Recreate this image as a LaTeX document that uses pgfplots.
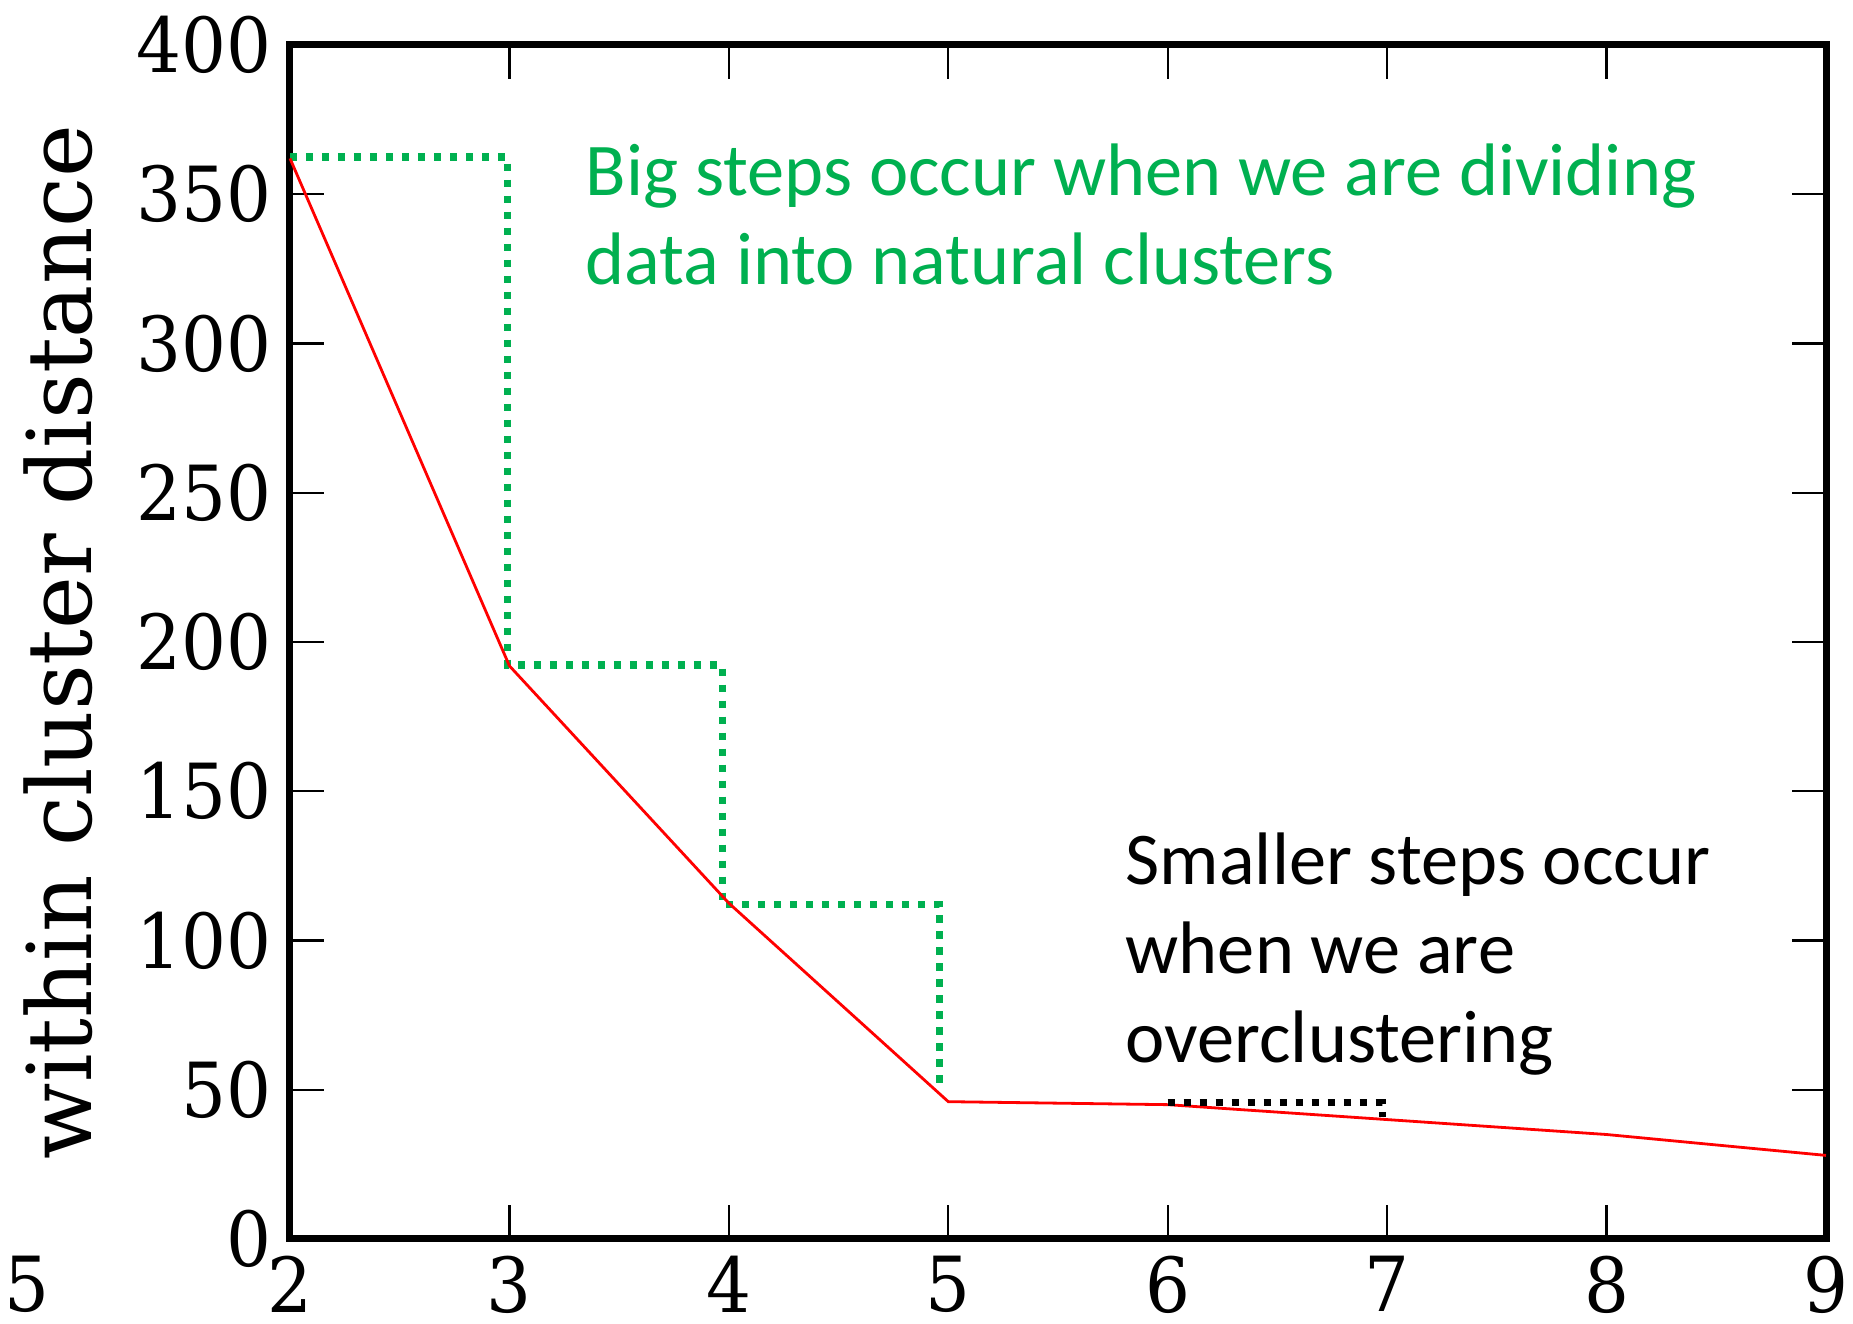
\documentclass[border=0pt]{standalone}
\usepackage{fontspec}
\setmainfont{DejaVu Serif}
\newfontfamily\tickfont{DejaVu Serif}[FakeStretch=0.93]
\newfontfamily\calibri{Carlito}
\usepackage{pgfplots}
\pgfplotsset{compat=1.18}
\definecolor{offgreen}{HTML}{00B050}
\begin{document}
\begin{tikzpicture}
\begin{axis}[
 scale only axis, width=384pt, height=298.5pt,
 xmin=2, xmax=9, ymin=0, ymax=400,
 xtick={2,...,9}, ytick={0,50,...,400},
 axis line style={line width=1.75pt},
 major tick length=8.5pt,
 every tick/.style={black, line width=0.6pt},
 tick label style={font=\tickfont\fontsize{19}{22}\selectfont, inner sep=0pt},
 /pgf/number format/assume math mode=true,
 xticklabel style={yshift=-4.2pt},
 yticklabel style={xshift=-4.5pt},
 ylabel={within cluster distance},
 ylabel style={font=\fontsize{22.3}{26}\selectfont, at={(axis description cs:-0.1289,0.5)}, anchor=base},
 clip=false,
]
\addplot[offgreen, line width=1.8pt, dash pattern=on 1.8pt off 2.2pt] coordinates {
 (2,362.5) (2.99,362.5) (2.99,192.3) (3.97,192.3) (3.97,112) (4.96,112) (4.96,51)};
\addplot[red, line width=0.7pt] coordinates {
 (2,362) (3,192) (4,112.5) (5,46) (6,45) (7,40) (8,35) (9,28)};
\addplot[black, line width=1.8pt, dash pattern=on 1.8pt off 2.2pt] coordinates {
 (6,45.6) (6.98,45.6) (6.98,41)};
\node[anchor=base west, inner sep=0pt, text=offgreen, font=\calibri\fontsize{18.6}{22}\selectfont] at (axis cs:3.344,349.7) {Big steps occur when we are dividing};
\node[anchor=base west, inner sep=0pt, text=offgreen, font=\calibri\fontsize{18.6}{22}\selectfont] at (axis cs:3.344,319.6) {data into natural clusters};
\node[anchor=base west, inner sep=0pt, font=\calibri\fontsize{18.6}{22}\selectfont] at (axis cs:5.805,118.9) {Smaller steps occur};
\node[anchor=base west, inner sep=0pt, font=\calibri\fontsize{18.6}{22}\selectfont] at (axis cs:5.805,89.1) {when we are};
\node[anchor=base west, inner sep=0pt, font=\calibri\fontsize{18.6}{22}\selectfont] at (axis cs:5.805,59.0) {overclustering};
\node[anchor=north, inner sep=0pt, yshift=-4.2pt, font=\tickfont\fontsize{19}{22}\selectfont] at (axis cs:0.8,0) {5};
\end{axis}
\pgfresetboundingbox
\path[use as bounding box] (-72.5pt,-21.25pt) rectangle (390.75pt,309.75pt);
\end{tikzpicture}
\end{document}
